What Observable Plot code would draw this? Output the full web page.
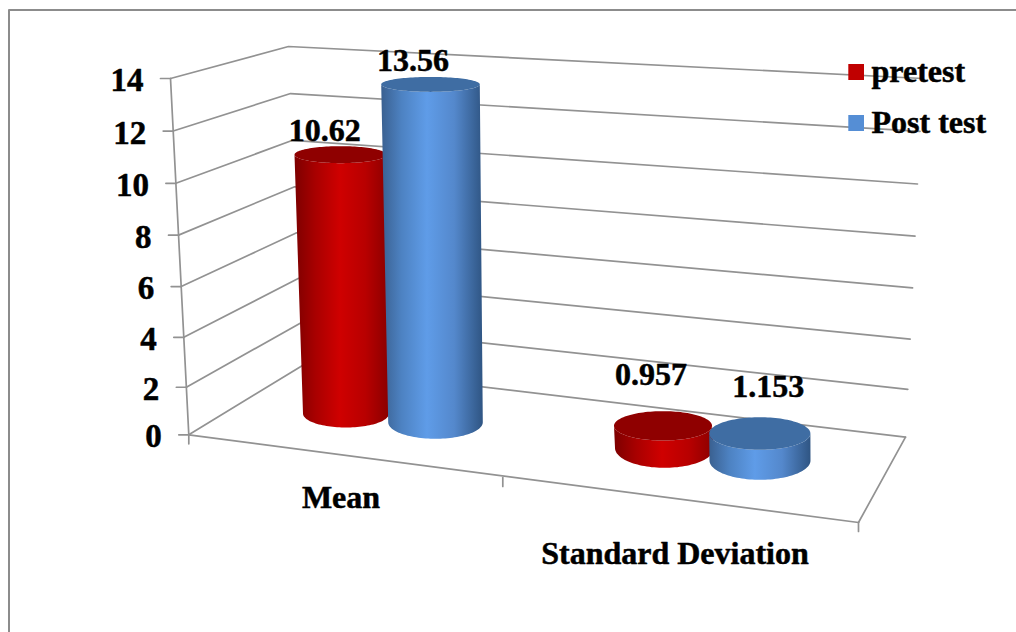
<!DOCTYPE html>
<html>
<head>
<meta charset="utf-8">
<script src="https://cdn.jsdelivr.net/npm/d3@7"></script>
<script src="https://cdn.jsdelivr.net/npm/@observablehq/plot@0.6"></script>
<style>
  html, body { margin: 0; padding: 0; background: #fff; }
  svg { display: block; }
</style>
</head>
<body>
<div id="chart"></div>
<script>
// Chart values
const categories = ["Mean", "Standard Deviation"];
const seriesNames = ["pretest", "Post test"];
const pretest = [10.62, 0.957];
const postTest = [13.56, 1.153];
const valueLabels = [["10.62", "0.957"], ["13.56", "1.153"]];
const yTicks = [0, 2, 4, 6, 8, 10, 12, 14];

// Page geometry of the 3D scene, in pixels
const W = 1016, H = 632, FLOOR_Y = 434.3, TOP_Y = 78;
const frontAxis = {bottom: [188.3, 434.3], top: [170, 78]};
const backAxis = {bottom: [302, 365], top: [288, 46]};
const rightAxis = {bottom: [905, 436.7], top: [922, 78]};
const floorFrontRight = [858, 522];
const floorMidTick = [502.3, 477];

// One cylinder per series and category: base and cap ellipses, depth shrink
const cylinderShape = [
  [
    {cx: 345.5, by: 413, rx: 43, ry: 14, tx: 340, trx: 46, try_: 8.5, depth: 0.967, lx: 324.3, ly: 130},
    {cx: 664, by: 447.5, rx: 49.5, ry: 19.8, tx: 662.5, trx: 49, try_: 14.7, depth: 1, lx: 650.5, ly: 374.7}
  ],
  [
    {cx: 435, by: 421.7, rx: 47.3, ry: 16.6, tx: 430, trx: 49.3, try_: 7.5, depth: 0.98, lx: 412.5, ly: 60},
    {cx: 759.5, by: 459.9, rx: 50.5, ry: 19.4, tx: 759.3, trx: 50.6, try_: 16.3, depth: 1, lx: 767.7, ly: 386}
  ]
];
const seriesStyle = [
  {swatch: "#c00000", cap: "#8f0000", gradient: "url(#barRed)"},
  {swatch: "#558ed5", cap: "#3f6da3", gradient: "url(#barBlue)"}
];

// Helpers: the y scale runs along the front axis, so pixels map back to value units
const UNIT = (FLOOR_Y - TOP_Y) / 14;
const toY = py => (FLOOR_Y - py) / UNIT;
const rise = v => 14 * Math.pow(v / 14, 1.035); // foreshortening along the wall
const lerp = (a, b, t) => a + (b - a) * t;
const along = (axis, v) => {
  const t = rise(v) / 14;
  return [lerp(axis.bottom[0], axis.top[0], t), lerp(axis.bottom[1], axis.top[1], t)];
};
const pt = ([x, py], extra = {}) => ({x, y: toY(py), ...extra});

// Grid lines wrap round the left wall and the back wall
const gridLines = yTicks.flatMap(v =>
  [frontAxis, backAxis, rightAxis].map(axis => pt(along(axis, v), {v}))
);
const floorEdges = [
  pt(frontAxis.bottom, {k: "front"}), pt(floorFrontRight, {k: "front"}),
  pt(floorFrontRight, {k: "right"}), pt(rightAxis.bottom, {k: "right"}),
  pt(frontAxis.bottom, {k: "axis"}), pt(frontAxis.top, {k: "axis"})
];
const leftTicks = yTicks.flatMap(v => {
  const [x, py] = along(frontAxis, v);
  return [pt([x, py], {v}), pt([x - 10, py], {v})];
});
const downTicks = [frontAxis.bottom, floorMidTick, floorFrontRight].flatMap((p, i) => [
  pt(p, {i}), pt([p[0], p[1] + 9], {i})
]);
const tickText = yTicks.map(v => {
  const [x, py] = along(frontAxis, v);
  return {x: x - 27, y: toY(py + 2), label: String(v)};
});

// Outline of a cylinder side and its cap, traced from a value
const angles = d3.range(0, 61).map(i => (i / 60) * Math.PI);
function cylinder(value, s) {
  const capY = s.by - rise(value) * UNIT * s.depth;
  const body = [
    ...angles.map(a => pt([s.cx - s.rx * Math.cos(a), s.by + s.ry * Math.sin(a)])),
    ...angles.map(a => pt([s.tx + s.trx * Math.cos(a), capY + s.try_ * Math.sin(a)]))
  ];
  const cap = [...angles, ...angles.map(a => a + Math.PI)].map(a =>
    pt([s.tx + s.trx * Math.cos(a), capY + s.try_ * Math.sin(a)])
  );
  return {body, cap};
}

const cylinderMarks = (values, si, ci) => {
  const {body, cap} = cylinder(values[ci], cylinderShape[si][ci]);
  const st = seriesStyle[si];
  return [
    Plot.line(body, {x: "x", y: "y", fill: st.gradient, stroke: "none", curve: "linear"}),
    Plot.line(cap, {x: "x", y: "y", fill: st.cap, stroke: "none", curve: "linear"})
  ];
};

// Horizontal shading that rounds the cylinder sides
function gradients() {
  const g = d3.create("svg:defs");
  const add = (id, stops) => {
    const lg = g.append("linearGradient").attr("id", id);
    stops.forEach(([o, c]) => lg.append("stop").attr("offset", o).attr("stop-color", c));
  };
  add("barRed", [[0, "#7d0000"], [0.22, "#a80000"], [0.48, "#cf0000"], [0.75, "#b80000"], [1, "#8a0000"]]);
  add("barBlue", [[0, "#3a6090"], [0.2, "#4d82c2"], [0.45, "#5f9ce8"], [0.72, "#5488cc"], [1, "#2f5583"]]);
  return g.node();
}

const GRAY = "#929292";
const font = {fontFamily: "Liberation Serif", fontWeight: "bold", fill: "#000", stroke: "#000", strokeWidth: 0.5};

const chart = Plot.plot({
  width: W,
  height: H,
  marginLeft: 0, marginRight: 0,
  marginTop: TOP_Y, marginBottom: H - FLOOR_Y,
  x: {type: "linear", domain: [0, W], range: [0, W], axis: null},
  y: {type: "linear", domain: [0, 14], axis: null},
  style: {background: "#fff", overflow: "visible"},
  marks: [
    gradients,
    // outer border
    Plot.line([pt([8.5, H]), pt([8.5, 9.5]), pt([W, 9.5])], {x: "x", y: "y", stroke: "#8c8c8c", strokeWidth: 2}),
    // walls, floor and ticks
    Plot.line(gridLines, {x: "x", y: "y", z: "v", stroke: GRAY, strokeWidth: 1.7}),
    Plot.line(floorEdges, {x: "x", y: "y", z: "k", stroke: GRAY, strokeWidth: 1.7}),
    Plot.line(leftTicks, {x: "x", y: "y", z: "v", stroke: GRAY, strokeWidth: 1.7}),
    Plot.line(downTicks, {x: "x", y: "y", z: "i", stroke: GRAY, strokeWidth: 1.7}),
    // cylinders, back to front within each category
    ...cylinderMarks(pretest, 0, 0),
    ...cylinderMarks(postTest, 1, 0),
    ...cylinderMarks(pretest, 0, 1),
    ...cylinderMarks(postTest, 1, 1),
    // value axis labels
    Plot.text(tickText, {x: "x", y: "y", text: "label", textAnchor: "end", fontSize: 33, ...font}),
    // value labels
    Plot.text(
      [0, 1].flatMap(si => [0, 1].map(ci => ({
        x: cylinderShape[si][ci].lx,
        y: toY(cylinderShape[si][ci].ly),
        label: valueLabels[si][ci]
      }))),
      {x: "x", y: "y", text: "label", fontSize: 32, ...font}
    ),
    // category labels
    Plot.text(
      [{x: 340.5, y: toY(497), label: categories[0]}, {x: 674.5, y: toY(553), label: categories[1]}],
      {x: "x", y: "y", text: "label", fontSize: 32, ...font}
    ),
    // legend
    Plot.rect(seriesNames.map((n, i) => ({
      x1: 848.3, x2: 864, y1: toY(64 + i * 51), y2: toY(80 + i * 51), i
    })), {x1: "x1", x2: "x2", y1: "y1", y2: "y2", fill: d => seriesStyle[d.i].swatch}),
    Plot.text(seriesNames.map((n, i) => ({x: 871, y: toY(71.5 + i * 51), label: n})),
      {x: "x", y: "y", text: "label", textAnchor: "start", fontSize: 32, ...font})
  ]
});
document.getElementById("chart").append(chart);
</script>
</body>
</html>
